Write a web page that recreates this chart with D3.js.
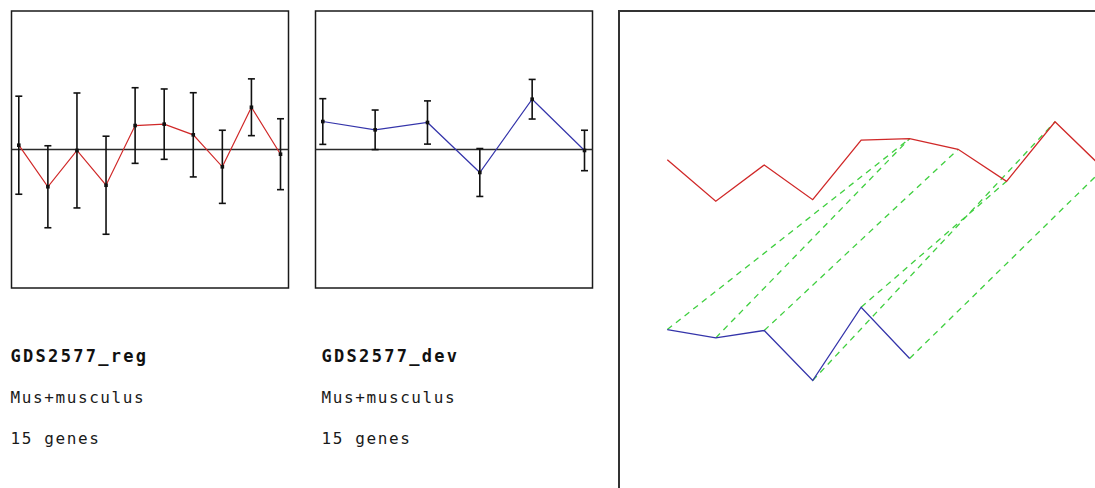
<!DOCTYPE html>
<html>
<head>
<meta charset="utf-8">
<script src="https://cdn.jsdelivr.net/npm/d3@7"></script>
<style>
    html, body { margin: 0; padding: 0; background: #fff; }
    svg { display: block; }
    .title { font-family: "DejaVu Sans Mono", monospace; font-weight: bold; font-size: 17px; letter-spacing: 2.3px; fill: #111; }
    .info { font-family: "DejaVu Sans Mono", monospace; font-size: 16px; letter-spacing: 1.6px; fill: #1a1a1a; }
</style>
</head>
<body>
<div id="chart"></div>
<script>
// GDS2577_reg profile (10 samples)
const regMean = [0.031, -0.269, -0.007, -0.258, 0.173, 0.183, 0.106, -0.125, 0.305, -0.034];
const regErr = [0.354, 0.296, 0.415, 0.354, 0.273, 0.254, 0.304, 0.264, 0.205, 0.256];

// GDS2577_dev profile (6 samples)
const devMean = [0.202, 0.142, 0.195, -0.166, 0.363, -0.007];
const devErr = [0.165, 0.143, 0.156, 0.173, 0.143, 0.146];

// dev sample index -> reg sample index
const links = [[0, 5], [1, 5], [2, 6], [3, 8], [4, 7], [5, 9]];

const panelInfo = [
    { name: "GDS2577_reg", organism: "Mus+musculus", genes: "15 genes" },
    { name: "GDS2577_dev", organism: "Mus+musculus", genes: "15 genes" }
];

const RED = "#d02828";
const BLUE = "#3434aa";

const svg = d3.select("#chart").append("svg")
    .attr("width", 1095)
    .attr("height", 488);

function profilePanel(left, textX, mean, err, color, info) {
    const top = 11, size = 277;
    const g = svg.append("g");

    g.append("rect")
        .attr("x", left)
        .attr("y", top)
        .attr("width", size)
        .attr("height", size)
        .attr("fill", "none")
        .attr("stroke", "#1a1a1a")
        .attr("stroke-width", 1.5);

    const x = d3.scaleLinear()
        .domain([0, mean.length - 1])
        .range([left + 7.3, left + size - 8]);

    const y = d3.scaleLinear()
        .domain([-1, 1])
        .range([top + size, top]);

    // zero line
    g.append("line")
        .attr("x1", left)
        .attr("x2", left + size)
        .attr("y1", y(0))
        .attr("y2", y(0))
        .attr("stroke", "#2a2a2a")
        .attr("stroke-width", 1.5);

    const line = d3.line()
        .x((d, i) => x(i))
        .y(d => y(d));

    g.append("path")
        .datum(mean)
        .attr("fill", "none")
        .attr("stroke", color)
        .attr("stroke-width", 1.2)
        .attr("d", line);

    // error bars
    const bars = g.selectAll(".err")
        .data(mean)
        .enter().append("g");

    bars.append("line")
        .attr("x1", (d, i) => x(i))
        .attr("x2", (d, i) => x(i))
        .attr("y1", (d, i) => y(d + err[i]))
        .attr("y2", (d, i) => y(d - err[i]))
        .attr("stroke", "#111")
        .attr("stroke-width", 1.6);

    [1, -1].forEach(s => {
        bars.append("line")
            .attr("x1", (d, i) => x(i) - 3.5)
            .attr("x2", (d, i) => x(i) + 3.5)
            .attr("y1", (d, i) => y(d + s * err[i]))
            .attr("y2", (d, i) => y(d + s * err[i]))
            .attr("stroke", "#111")
            .attr("stroke-width", 1.6);
    });

    bars.append("rect")
        .attr("x", (d, i) => x(i) - 1.8)
        .attr("y", d => y(d) - 1.8)
        .attr("width", 3.6)
        .attr("height", 3.6)
        .attr("fill", "#111");

    // labels under the box
    g.append("text").attr("class", "title")
        .attr("x", textX)
        .attr("y", 361.5)
        .text(info.name);
    g.append("text").attr("class", "info")
        .attr("x", textX)
        .attr("y", 402.5)
        .text(info.organism);
    g.append("text").attr("class", "info")
        .attr("x", textX)
        .attr("y", 444)
        .text(info.genes);
}

profilePanel(11.5, 10.5, regMean, regErr, RED, panelInfo[0]);
profilePanel(315.5, 321.5, devMean, devErr, BLUE, panelInfo[1]);

// Comparison panel (runs off the right/bottom edge)
const cmp = svg.append("g");

cmp.append("rect")
    .attr("x", 619)
    .attr("y", 11)
    .attr("width", 520)
    .attr("height", 520)
    .attr("fill", "none")
    .attr("stroke", "#333")
    .attr("stroke-width", 2);

const xc = d3.scaleLinear()
    .domain([0, 9])
    .range([667.3, 1103.5]);

const yRed = d3.scaleLinear()
    .domain([-1, 1])
    .range([164 + 138.5, 164 - 138.5]);

const yBlue = d3.scaleLinear()
    .domain([-1, 1])
    .range([357.5 + 138.5, 357.5 - 138.5]);

// matched samples
cmp.selectAll(".link")
    .data(links)
    .enter().append("line")
    .attr("x1", d => xc(d[0]))
    .attr("y1", d => yBlue(devMean[d[0]]))
    .attr("x2", d => xc(d[1]))
    .attr("y2", d => yRed(regMean[d[1]]))
    .attr("stroke", "#3fcf3f")
    .attr("stroke-width", 1.3)
    .attr("stroke-dasharray", "6 5");

cmp.append("path")
    .datum(regMean)
    .attr("fill", "none")
    .attr("stroke", RED)
    .attr("stroke-width", 1.3)
    .attr("d", d3.line().x((d, i) => xc(i)).y(d => yRed(d)));

cmp.append("path")
    .datum(devMean)
    .attr("fill", "none")
    .attr("stroke", BLUE)
    .attr("stroke-width", 1.3)
    .attr("d", d3.line().x((d, i) => xc(i)).y(d => yBlue(d)));
</script>
</body>
</html>
